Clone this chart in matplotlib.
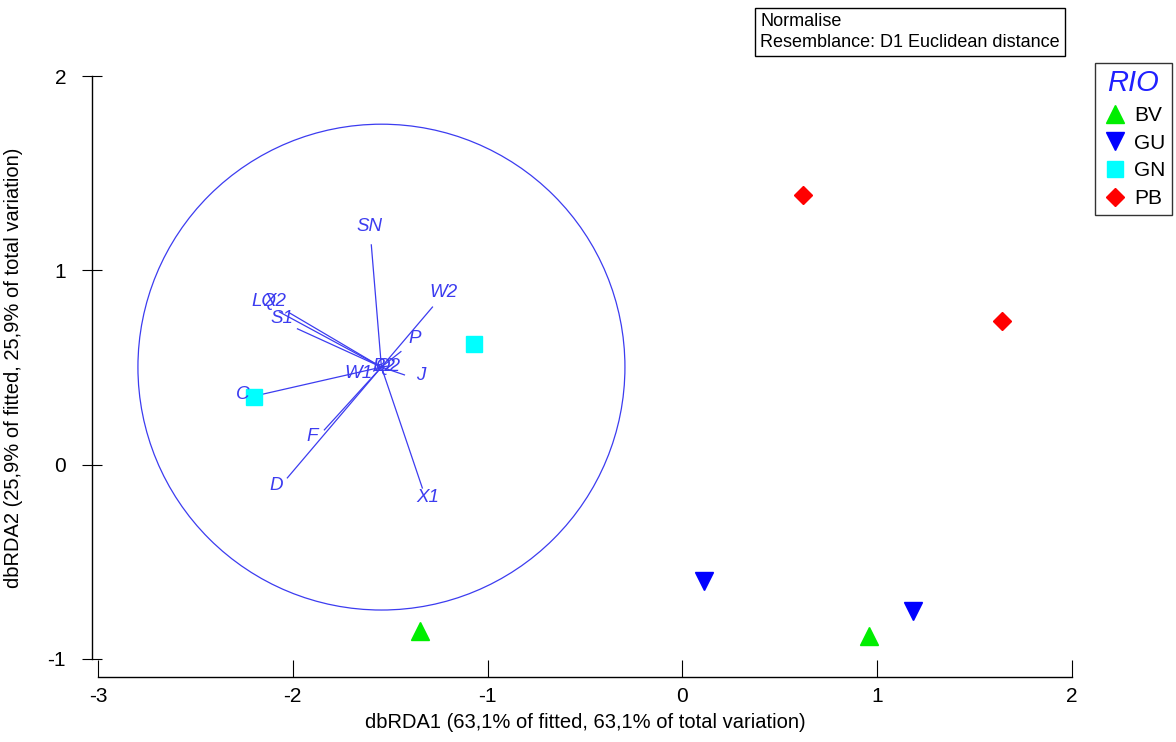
import numpy as np
import matplotlib.pyplot as plt
from matplotlib.patches import Circle

plt.rcParams['font.family'] = ['Liberation Sans', 'DejaVu Sans']
plt.rcParams['axes.unicode_minus'] = False

# echantillons par riviere (coordonnees dbRDA1, dbRDA2)
groupes = ["BV", "GU", "GN", "PB"]
bv_x = [-1.345, 0.960]
bv_y = [-0.857, -0.883]
gu_x = [0.113, 1.186]
gu_y = [-0.600, -0.754]
gn_x = [-1.068, -2.197]
gn_y = [0.621, 0.348]
pb_x = [0.621, 1.643]
pb_y = [1.388, 0.739]

# vecteurs des variables (origine au centre du cercle)
var_noms = ["SN", "W2", "P", "J", "X1", "D", "F", "C", "S1", "LQ", "X2", "W1", "B2", "Q2"]
var_dx = [-0.052, 0.262, 0.100, 0.118, 0.210, -0.483, -0.293, -0.626, -0.431, -0.524, -0.472, -0.040, 0.010, 0.030]
var_dy = [0.629, 0.309, 0.080, -0.040, -0.622, -0.570, -0.323, -0.143, 0.197, 0.284, 0.279, -0.020, 0.005, 0.005]
centre = (-1.545, 0.502)
rayon = 1.25

bleu = "#3c3cf0"

fig = plt.figure(figsize=(11.76, 7.42), dpi=100)
ax = fig.add_axes([98 / 1176, 83 / 742, 974 / 1176, 583 / 742])

ax.set_xlim(-3, 2)
ax.set_ylim(-1, 2)

# cercle + vecteurs
ax.add_patch(Circle(centre, rayon, fill=False, ec=bleu, lw=0.9, clip_on=False))
for nom, dx, dy in zip(var_noms, var_dx, var_dy):
    x1 = centre[0] + dx
    y1 = centre[1] + dy
    ax.plot([centre[0], x1], [centre[1], y1], color=bleu, lw=0.9)
    n = np.hypot(dx, dy)
    if nom in ("B2", "Q2"):
        lx, ly = x1, y1
    else:
        lx = x1 + 0.09 * dx / n
        ly = y1 + 0.075 * dy / n + 0.02
    ax.text(lx, ly, nom, color=bleu, style="italic", fontsize=13.5,
            ha="center", va="center")

ax.plot(bv_x, bv_y, "^", color="#00ee00", ms=13, ls="none", label="BV", clip_on=False)
ax.plot(gu_x, gu_y, "v", color="#0000ff", ms=13, ls="none", label="GU", clip_on=False)
ax.plot(gn_x, gn_y, "s", color="#00ffff", ms=11, ls="none", label="GN", clip_on=False)
ax.plot(pb_x, pb_y, "D", color="#ff0000", ms=9, ls="none", label="PB", clip_on=False)

# axes detaches facon PRIMER
for s in ("top", "right"):
    ax.spines[s].set_visible(False)
ax.spines["left"].set_position(("outward", 4))
ax.spines["bottom"].set_position(("outward", 13))
ax.spines["left"].set_linewidth(1.0)
ax.spines["bottom"].set_linewidth(1.0)
ax.set_xticks([-3, -2, -1, 0, 1, 2])
ax.set_yticks([-1, 0, 1, 2])
ax.tick_params(axis="y", direction="inout", length=14, labelsize=15, pad=12)
ax.tick_params(axis="x", direction="in", length=12, labelsize=15, pad=7)
ax.set_xlabel("dbRDA1 (63,1% of fitted, 63,1% of total variation)", fontsize=14.5, labelpad=5)
ax.set_ylabel("dbRDA2 (25,9% of fitted, 25,9% of total variation)", fontsize=14.5, labelpad=18)

fig.text(760 / 1176, 1 - 32 / 742, "Normalise\nResemblance: D1 Euclidean distance",
         fontsize=13, va="center", ha="left", linespacing=1.25,
         bbox=dict(boxstyle="square,pad=0.28", fc="white", ec="black", lw=1))

leg = ax.legend(title="RIO", loc="upper right",
                bbox_to_anchor=(1172 / 1176, 1 - 63 / 742),
                bbox_transform=fig.transFigure, fontsize=15, frameon=True,
                fancybox=False, edgecolor="black", handletextpad=0.3,
                labelspacing=0.42, borderpad=0.3, handlelength=1.3,
                borderaxespad=0, markerscale=1.0)
leg.get_title().set_color("#2020ff")
leg.get_title().set_fontsize(21)
leg.get_title().set_style("italic")
leg.get_frame().set_linewidth(1.0)

fig.savefig("out.png", dpi=100)
